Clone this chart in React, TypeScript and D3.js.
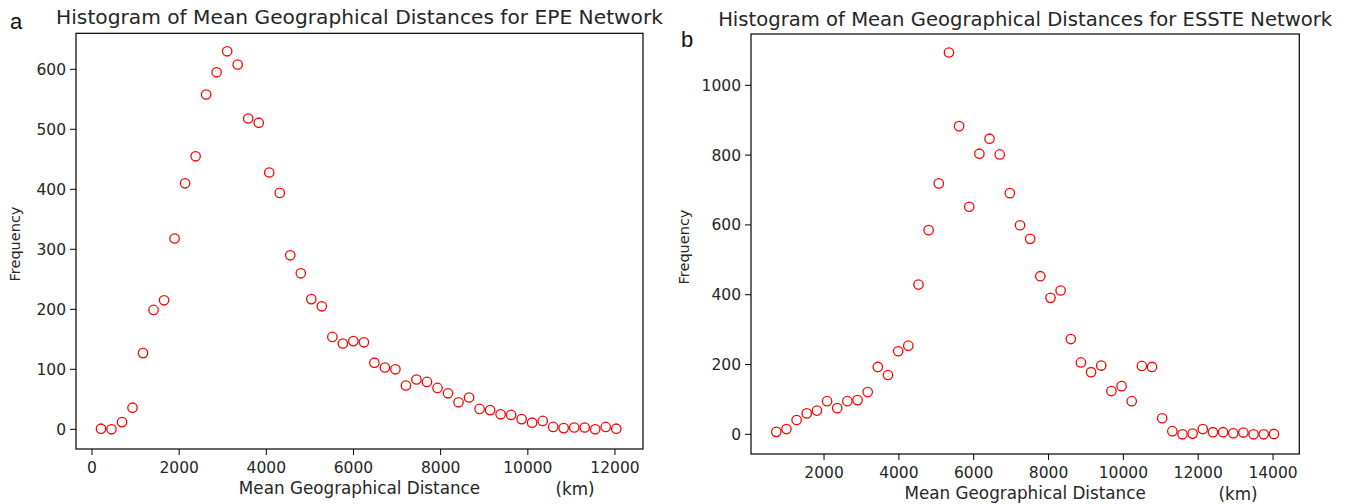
import React from "react";
import * as d3 from "d3";

// ---- Data: panel a (EPE Network) ----
const epeDistance = [206, 447, 689, 930, 1171, 1413, 1654, 1895, 2136, 2378, 2619, 2860, 3102, 3343, 3584, 3826, 4067, 4308, 4549, 4791, 5032, 5273, 5515, 5756, 5997, 6239, 6480, 6721, 6962, 7204, 7445, 7686, 7928, 8169, 8410, 8652, 8893, 9134, 9375, 9617, 9858, 10099, 10341, 10582, 10823, 11065, 11306, 11547, 11788, 12030];
const epeFrequency = [1, 0, 12, 36, 127, 199, 215, 318, 410, 455, 558, 595, 630, 608, 518, 511, 428, 394, 290, 260, 217, 205, 154, 143, 147, 145, 111, 103, 100, 73, 83, 79, 69, 60, 45, 53, 34, 32, 25, 24, 17, 11, 14, 4, 2, 3, 3, 0, 4, 1];
const epeXTicks = [0, 2000, 4000, 6000, 8000, 10000, 12000];
const epeYTicks = [0, 100, 200, 300, 400, 500, 600];

// ---- Data: panel b (ESSTE Network) ----
const essteDistance = [724, 995, 1267, 1538, 1810, 2081, 2352, 2624, 2895, 3167, 3438, 3709, 3981, 4252, 4524, 4795, 5066, 5338, 5609, 5881, 6152, 6423, 6695, 6966, 7238, 7509, 7780, 8052, 8323, 8595, 8866, 9137, 9409, 9680, 9952, 10223, 10494, 10766, 11037, 11309, 11580, 11851, 12123, 12394, 12666, 12937, 13208, 13480, 13751, 14023];
const essteFrequency = [7, 15, 41, 60, 68, 95, 75, 95, 98, 121, 193, 170, 238, 254, 429, 585, 719, 1094, 883, 652, 804, 847, 802, 691, 599, 560, 453, 391, 412, 273, 206, 178, 197, 124, 138, 95, 196, 193, 46, 9, 0, 2, 15, 6, 6, 3, 5, 0, 0, 1];
const essteXTicks = [2000, 4000, 6000, 8000, 10000, 12000, 14000];
const essteYTicks = [0, 200, 400, 600, 800, 1000];

const FONT = "DejaVu Sans, sans-serif";
const TXT = "#262626";

type PanelProps = {
  letter: string;
  letterX: number;
  letterY: number;
  title: string;
  titleY: number;
  titleSize: number;
  xs: number[];
  ys: number[];
  xTicks: number[];
  yTicks: number[];
  xDomain: [number, number];
  yDomain: [number, number];
  left: number;
  right: number;
  top: number;
  bottom: number;
  yLabelX: number;
  yLabelY: number;
  xLabelY: number;
  kmX: number;
  kmY: number;
};

function Panel(p: PanelProps) {
  const x = d3.scaleLinear().domain(p.xDomain).range([p.left, p.right]);
  const y = d3.scaleLinear().domain(p.yDomain).range([p.bottom, p.top]);
  const cx = (p.left + p.right) / 2;
  return (
    <g>
      <text x={p.letterX} y={p.letterY} fontFamily="Liberation Sans, Arial, sans-serif" fontSize={22} fill="#111">
        {p.letter}
      </text>
      <text x={cx} y={p.titleY} textAnchor="middle" fontFamily={FONT} fontSize={p.titleSize} fill={TXT}>
        {p.title}
      </text>
      {/* y ticks */}
      {p.yTicks.map((t) => (
        <g key={"y" + t}>
          <line x1={p.left - 6} x2={p.left} y1={y(t)} y2={y(t)} stroke="#000" strokeWidth={1} />
          <text x={p.left - 10} y={y(t)} dy="0.36em" textAnchor="end" fontFamily={FONT} fontSize={15.5} fill={TXT}>
            {t}
          </text>
        </g>
      ))}
      {/* x ticks */}
      {p.xTicks.map((t) => (
        <g key={"x" + t}>
          <line x1={x(t)} x2={x(t)} y1={p.bottom} y2={p.bottom + 6} stroke="#000" strokeWidth={1} />
          <text x={x(t)} y={p.bottom + 24} textAnchor="middle" fontFamily={FONT} fontSize={15.5} fill={TXT}>
            {t}
          </text>
        </g>
      ))}
      {/* points */}
      {p.xs.map((v, i) => (
        <circle key={i} cx={x(v)} cy={y(p.ys[i])} r={4.7} fill="none" stroke="#ff0000" strokeWidth={1.3} />
      ))}
      {/* frame */}
      <rect x={p.left} y={p.top} width={p.right - p.left} height={p.bottom - p.top} fill="none" stroke="#000" strokeWidth={1.2} />
      <text
        transform={`translate(${p.yLabelX},${p.yLabelY}) rotate(-90)`}
        textAnchor="middle"
        fontFamily={FONT}
        fontSize={14.5}
        fill={TXT}
      >
        Frequency
      </text>
      <text x={cx} y={p.xLabelY} textAnchor="middle" fontFamily={FONT} fontSize={16.8} fill={TXT}>
        Mean Geographical Distance
      </text>
      <text x={p.kmX} y={p.kmY} textAnchor="middle" fontFamily={FONT} fontSize={16.8} fill={TXT}>
        (km)
      </text>
    </g>
  );
}

export default function App() {
  return (
    <svg
      width={1347}
      height={504}
      style={{ position: "absolute", left: 0, top: 0, background: "#fff" }}
    >
      <Panel
        letter="a"
        letterX={10}
        letterY={29}
        title="Histogram of Mean Geographical Distances for EPE Network"
        titleY={23.5}
        titleSize={20.2}
        xs={epeDistance}
        ys={epeFrequency}
        xTicks={epeXTicks}
        yTicks={epeYTicks}
        xDomain={[-367, 12643]}
        yDomain={[-32.8, 660]}
        left={76}
        right={643}
        top={33.3}
        bottom={449}
        yLabelX={20}
        yLabelY={244}
        xLabelY={494}
        kmX={575}
        kmY={495}
      />
      <Panel
        letter="b"
        letterX={681}
        letterY={47}
        title="Histogram of Mean Geographical Distances for ESSTE Network"
        titleY={25.8}
        titleSize={19.6}
        xs={essteDistance}
        ys={essteFrequency}
        xTicks={essteXTicks}
        yTicks={essteYTicks}
        xDomain={[48, 14702]}
        yDomain={[-56.4, 1147]}
        left={751}
        right={1299.3}
        top={34}
        bottom={454}
        yLabelX={689}
        yLabelY={247}
        xLabelY={499}
        kmX={1238}
        kmY={500}
      />
    </svg>
  );
}
